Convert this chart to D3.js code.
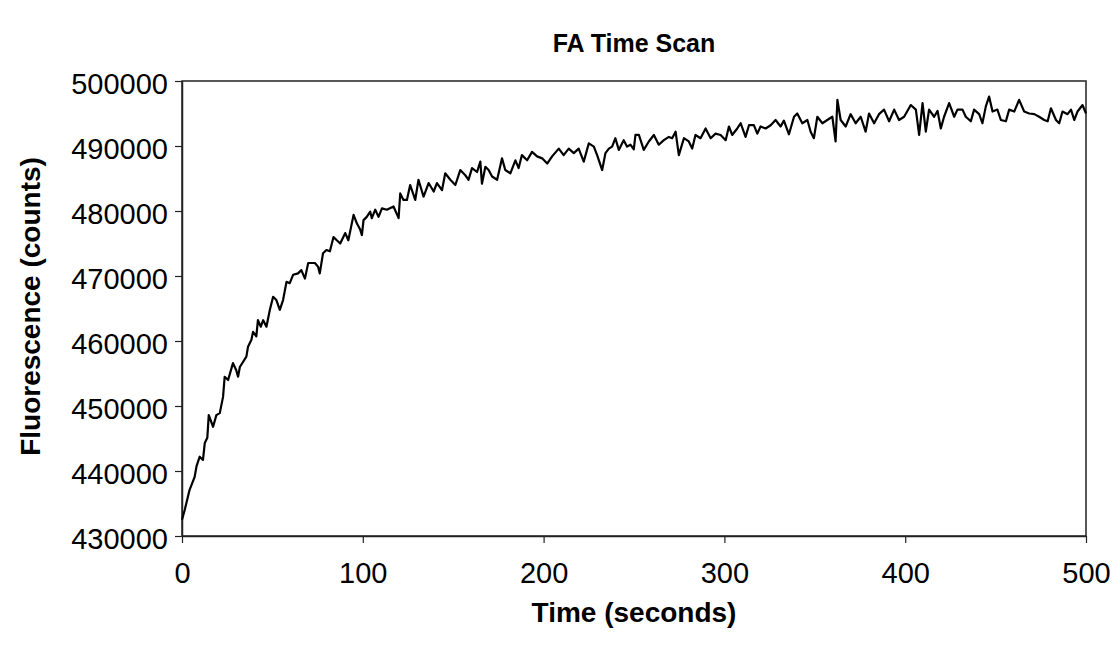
<!DOCTYPE html>
<html>
<head>
<meta charset="utf-8">
<script src="https://cdn.jsdelivr.net/npm/d3@7"></script>
<style>
  body { margin: 0; background: #fff; }
  text { font-family: "Liberation Sans", Arial, sans-serif; fill: #000; }
</style>
</head>
<body>
<div id="chart"></div>
<script>
// FA time scan - fluorescence vs time

var timeSec = [0, 1.5, 4.2, 7, 8, 9.8, 11.6, 12.6, 14, 14.8, 17.2, 19, 20.9, 22.7, 23.6, 25.5, 28.2, 30, 31, 32,
  35.6, 36.5, 38.4, 39.3, 41.1, 42, 43.6, 44.9, 46.7, 48.6, 50.4, 52.2, 54.1, 55.9, 57.8, 59.6, 61.5, 64.2, 66, 68,
  69.8, 73.5, 75.3, 76.2, 78, 79.9, 81.8, 83.8, 85.6, 87.5, 90.3, 92, 94.9, 96.7, 98.6, 99.5, 100.4, 102.2, 104.1, 105,
  106.9, 108.7, 110.6, 113.3, 117, 119.8, 120.7, 122.5, 124.4, 126.2, 129, 130.8, 133.6, 136.4, 139.2, 141, 143.8, 145.6, 148.4, 151.2,
  153.9, 156.7, 158.5, 160.4, 163.2, 165, 165.9, 167.8, 169.6, 171.5, 174.3, 177, 178.8, 181.6, 184.4, 186.2, 188, 190.9, 193.6, 196.4,
  199.2, 202, 204.7, 208.4, 211.1, 213.9, 216.7, 219.4, 222.2, 225, 227.8, 229.6, 232.4, 234.2, 236.1, 237.9, 239.7, 241.6, 244.3, 246.2,
  248, 249.9, 250.8, 252.7, 255.4, 258.2, 261, 263.7, 266.5, 269.3, 271.1, 273, 274.8, 277.6, 280.3, 282.2, 284, 286.8, 289.6, 292.4,
  295.1, 297.9, 300.7, 302.5, 304.3, 307.1, 309, 311.7, 313.6, 316.3, 318.2, 320, 322.8, 325.6, 328.3, 331.1, 332.9, 335.7, 338.5, 340.3,
  343.1, 345.9, 347.7, 349.5, 351.4, 354.2, 356.9, 359.7, 361.5, 362.5, 364.3, 367.1, 369.8, 372.6, 375.4, 378.1, 380, 382.8, 385.5, 388.3,
  391.1, 393.9, 396.6, 399.4, 403.1, 405.9, 407.7, 409.6, 411.4, 413.2, 416, 417.9, 419.7, 421.5, 424.3, 427.1, 428.9, 431.7, 433.5, 436.3,
  438.1, 440.9, 442.7, 444.6, 446.4, 448.3, 451, 452.9, 455.7, 457.5, 460.3, 463, 465.8, 468.6, 471.4, 474.1, 476.9, 478.8, 480.6, 483.4,
  485.2, 487, 489.8, 491.7, 493.5, 495.3, 498.1, 500];

var counts = [432500, 434000, 437100, 439100, 440700, 442200, 441700, 444300, 445100, 448600, 446800, 448600, 448900, 451400, 454500, 454000, 456600, 455500, 454500, 456000,
  457600, 459100, 460200, 461400, 460700, 463200, 462200, 463200, 462200, 464800, 466800, 466300, 464800, 466300, 469100, 468900, 470200, 470400, 470900, 469600,
  472000, 472000, 471400, 470400, 473500, 474000, 473800, 476000, 475500, 475000, 476600, 475500, 479400, 478100, 477100, 476300, 478600, 479100, 479900, 478900,
  480200, 479100, 480400, 480200, 480700, 478900, 482700, 481700, 481700, 484000, 481700, 484800, 482200, 484300, 483000, 484300, 483200, 485800, 484800, 484000,
  486300, 485500, 484800, 486600, 486000, 487600, 484200, 486800, 486300, 485300, 484800, 488100, 486300, 485800, 487800, 486600, 488600, 487800, 489100, 488400,
  488100, 487300, 488400, 489600, 488600, 489600, 488900, 489600, 487600, 490400, 489900, 488600, 486300, 488900, 489600, 489900, 491200, 489400, 490900, 489900,
  490200, 489500, 491700, 491700, 489400, 490700, 491700, 490200, 490900, 491400, 491200, 492200, 488600, 491200, 490700, 489600, 491700, 491200, 492700, 491200,
  491900, 491700, 490900, 493000, 491700, 492700, 493500, 491400, 493200, 493200, 491900, 493000, 492700, 493200, 494000, 493000, 493900, 491800, 494500, 495000,
  493500, 494000, 492200, 491200, 494500, 493500, 494000, 494500, 490700, 497100, 494000, 493000, 494900, 493500, 494500, 492200, 495000, 493500, 494900, 495600,
  493800, 495600, 494000, 494500, 496300, 495600, 491700, 496600, 492200, 495600, 494500, 495400, 492700, 494500, 496600, 494500, 495600, 495600, 494500, 493800,
  495600, 494900, 493500, 496100, 497600, 495300, 495600, 494000, 493800, 495600, 495300, 497100, 495300, 495000, 494900, 494500, 494000, 493800, 495800, 494000,
  493500, 495300, 494900, 495600, 494000, 495300, 496300, 495000];

var xTicks = [0, 100, 200, 300, 400, 500];
var yTicks = [430000, 440000, 450000, 460000, 470000, 480000, 490000, 500000];

var svgWidth = 1120;
var svgHeight = 645;

// plot box
var margin = {top: 81, right: 34, bottom: 109, left: 182};
var chartWidth = svgWidth - margin.left - margin.right;
var chartHeight = svgHeight - margin.top - margin.bottom;

var svg = d3.select("#chart").append("svg")
  .attr("width", svgWidth)
  .attr("height", svgHeight);

var chartGroup = svg.append("g")
  .attr("transform", `translate(${margin.left}, ${margin.top})`);

var xScale = d3.scaleLinear().domain([0, 500]).range([0, chartWidth]);
var yScale = d3.scaleLinear().domain([430000, 500000]).range([chartHeight, 0]);

var data = timeSec.map((t, i) => ({t: t, v: counts[i]}));

// frame
chartGroup.append("rect")
  .attr("width", chartWidth)
  .attr("height", chartHeight)
  .attr("fill", "none")
  .attr("stroke", "#222")
  .attr("stroke-width", 1.5);

var bottomAxis = d3.axisBottom(xScale).tickValues(xTicks).tickSize(7).tickPadding(19).tickSizeOuter(0);
var leftAxis = d3.axisLeft(yScale).tickValues(yTicks).tickSize(7).tickPadding(7).tickSizeOuter(0).tickFormat(d3.format("d"));

var xAxis = chartGroup.append("g")
  .attr("transform", `translate(0, ${chartHeight})`)
  .call(bottomAxis);
var yAxis = chartGroup.append("g").call(leftAxis);

[xAxis, yAxis].forEach(function(ax) {
  ax.select(".domain").attr("stroke", "#222").attr("stroke-width", 1.5);
  ax.selectAll(".tick line").attr("stroke", "#222").attr("stroke-width", 1.2);
  ax.selectAll(".tick text")
    .style("font-family", "'Liberation Sans', Arial, sans-serif")
    .style("font-size", "29px")
    .attr("fill", "#000");
});
yAxis.selectAll(".tick text").attr("dy", "0.42em");

// the trace
var line = d3.line()
  .x(d => xScale(d.t))
  .y(d => yScale(d.v));

chartGroup.append("path")
  .datum(data)
  .attr("fill", "none")
  .attr("stroke", "#000")
  .attr("stroke-width", 2.2)
  .attr("stroke-linejoin", "round")
  .attr("d", line);

// title and axis labels
svg.append("text")
  .attr("x", margin.left + chartWidth / 2)
  .attr("y", 52)
  .attr("text-anchor", "middle")
  .style("font-size", "25px")
  .style("font-weight", "bold")
  .text("FA Time Scan");

svg.append("text")
  .attr("x", margin.left + chartWidth / 2)
  .attr("y", 622)
  .attr("text-anchor", "middle")
  .style("font-size", "28px")
  .style("font-weight", "bold")
  .text("Time (seconds)");

svg.append("text")
  .attr("transform", "rotate(-90)")
  .attr("x", -(margin.top + chartHeight / 2) + 2)
  .attr("y", 40)
  .attr("text-anchor", "middle")
  .style("font-size", "28px")
  .style("font-weight", "bold")
  .text("Fluorescence (counts)");
</script>
</body>
</html>
